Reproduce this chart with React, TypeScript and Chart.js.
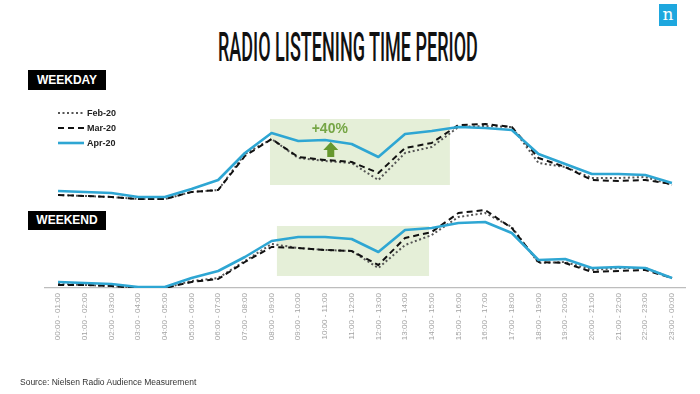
import React, { useEffect, useRef } from "react";
import { Chart, registerables } from "chart.js";

Chart.register(...registerables);

// ---------- data ----------
const hours: string[] = [
  "00:00 - 01:00", "01:00 - 02:00", "02:00 - 03:00", "03:00 - 04:00",
  "04:00 - 05:00", "05:00 - 06:00", "06:00 - 07:00", "07:00 - 08:00",
  "08:00 - 09:00", "09:00 - 10:00", "10:00 - 11:00", "11:00 - 12:00",
  "12:00 - 13:00", "13:00 - 14:00", "14:00 - 15:00", "15:00 - 16:00",
  "16:00 - 17:00", "17:00 - 18:00", "18:00 - 19:00", "19:00 - 20:00",
  "20:00 - 21:00", "21:00 - 22:00", "22:00 - 23:00", "23:00 - 00:00",
];

const seriesNames = ["Feb-20", "Mar-20", "Apr-20"];

const weekdayFeb = [10, 9, 8, 6, 6, 13, 15, 51, 66, 47, 44, 42, 25, 52, 58, 78, 79, 78, 42, 38, 27, 27, 28, 20];
const weekdayMar = [10, 9, 8, 6, 6, 13, 15, 49, 66, 48, 45, 43, 32, 57, 62, 80, 81, 78, 47, 38, 25, 24, 25, 21];
const weekdayApr = [14, 13, 12, 8, 8, 16, 25, 52, 72, 64, 65, 61, 48, 71, 74, 78, 77, 75, 51, 41, 31, 31, 30, 22];

const weekendFeb = [6, 5, 4, 2, 2, 9, 12, 29, 46, 42, 40, 39, 22, 45, 55, 73, 77, 63, 27, 28, 20, 22, 22, 12];
const weekendMar = [5, 5, 4, 2, 2, 8, 11, 28, 43, 42, 40, 39, 25, 52, 58, 77, 80, 62, 28, 27, 18, 19, 20, 12];
const weekendApr = [8, 7, 6, 3, 3, 12, 19, 33, 49, 53, 53, 51, 38, 60, 62, 67, 68, 57, 30, 31, 22, 23, 22, 12];

const weekdayRange = { min: 5, max: 90 };
const weekendRange = { min: 2, max: 85 };

// highlighted periods (category index / value units)
const weekdayHighlight = { from: 7.94, to: 14.68, low: 20, high: 86 };
const weekendHighlight = { from: 8.2, to: 13.9, low: 14, high: 64 };
const growthNote = { text: "+40%", at: 10.18, value: 75.5, arrowTop: 63, arrowBase: 55, arrowEnd: 48 };

// ---------- styles ----------
const FONT = "'Liberation Sans', Arial, sans-serif";
const BLUE = "#2ea6d3";
const BOX = "rgb(229,239,216)";
const seriesStyles = [
  { color: "#555555", width: 2, dash: [2, 2.5] },
  { color: "#111111", width: 2, dash: [6, 4] },
  { color: BLUE, width: 2.6, dash: [] as number[] },
];

function highlightPlugin(box: any, note?: any) {
  return {
    id: "highlight",
    beforeDatasetsDraw(chart: any) {
      const { ctx, scales } = chart;
      const x = scales.x, y = scales.y;
      const x0 = x.getPixelForValue(box.from);
      const x1 = x.getPixelForValue(box.to);
      const y0 = y.getPixelForValue(box.high);
      const y1 = y.getPixelForValue(box.low);
      ctx.save();
      ctx.fillStyle = BOX;
      ctx.fillRect(x0, y0, x1 - x0, y1 - y0);
      if (note) {
        const cx = x.getPixelForValue(note.at);
        ctx.fillStyle = "#76a646";
        ctx.font = `bold 14px ${FONT}`;
        ctx.textAlign = "center";
        ctx.textBaseline = "middle";
        ctx.fillText(note.text, cx, y.getPixelForValue(note.value));
        const yt = y.getPixelForValue(note.arrowTop);
        const yb = y.getPixelForValue(note.arrowBase);
        const ye = y.getPixelForValue(note.arrowEnd);
        const ax = cx + 1;
        ctx.fillStyle = "#66982f";
        ctx.beginPath();
        ctx.moveTo(ax, yt);
        ctx.lineTo(ax + 7.5, yb);
        ctx.lineTo(ax + 3.5, yb);
        ctx.lineTo(ax + 3.5, ye);
        ctx.lineTo(ax - 3.5, ye);
        ctx.lineTo(ax - 3.5, yb);
        ctx.lineTo(ax - 7.5, yb);
        ctx.closePath();
        ctx.fill();
      }
      ctx.restore();
    },
  };
}

function makeConfig(
  series: number[][],
  range: { min: number; max: number },
  padTop: number,
  padBottom: number,
  showAxis: boolean,
  box: any,
  note?: any
): any {
  const xScale: any = {
    type: "category",
    offset: true,
    display: showAxis,
    grid: { display: false, drawTicks: false },
    border: { display: true, color: "#bdbdbd", width: 1.2 },
    ticks: {
      autoSkip: false,
      minRotation: 90,
      maxRotation: 90,
      padding: 5,
      color: "#a3a3a3",
      font: { size: 8, family: FONT },
    },
  };
  if (showAxis) {
    xScale.afterFit = (s: any) => {
      s.height = 60;
    };
  }
  return {
    type: "line",
    data: {
      labels: hours,
      datasets: series.map((d, i) => ({
        label: seriesNames[i],
        data: d,
        borderColor: seriesStyles[i].color,
        borderWidth: seriesStyles[i].width,
        borderDash: seriesStyles[i].dash,
        borderCapStyle: "butt",
        borderJoinStyle: "round",
        pointRadius: 0,
        tension: 0,
        fill: false,
        order: 2 - i,
      })),
    },
    options: {
      responsive: false,
      animation: false,
      devicePixelRatio: 1,
      layout: { padding: { left: 44.7, right: 14.7, top: padTop, bottom: padBottom } },
      plugins: { legend: { display: false }, tooltip: { enabled: false } },
      scales: {
        x: xScale,
        y: { display: false, min: range.min, max: range.max },
      },
    },
    plugins: [highlightPlugin(box, note)],
  };
}

function ChartCanvas({ config }: { config: any }) {
  const ref = useRef<HTMLCanvasElement>(null);
  useEffect(() => {
    if (!ref.current) return;
    const chart = new Chart(ref.current, config);
    return () => chart.destroy();
  }, [config]);
  return (
    <canvas
      ref={ref}
      width={700}
      height={394}
      style={{ position: "absolute", left: 0, top: 0, width: 700, height: 394 }}
    />
  );
}

const weekdayConfig = makeConfig(
  [weekdayFeb, weekdayMar, weekdayApr], weekdayRange, 115, 194, false, weekdayHighlight, growthNote
);
const weekendConfig = makeConfig(
  [weekendFeb, weekendMar, weekendApr], weekendRange, 205, 46, true, weekendHighlight
);

function PanelTag({ text, top }: { text: string; top: number }) {
  return (
    <div
      style={{
        position: "absolute", left: 28, top, width: 78, height: 19.5,
        background: "#000", color: "#fff", font: `bold 12px ${FONT}`,
        display: "flex", alignItems: "center", justifyContent: "center",
      }}
    >
      {text}
    </div>
  );
}

export default function App() {
  const titleRef = useRef<HTMLSpanElement>(null);
  useEffect(() => {
    document.body.style.margin = "0";
    const el = titleRef.current;
    if (el) {
      const w = el.offsetWidth;
      if (w > 0) el.style.transform = `scaleX(${260 / w})`;
    }
  }, []);
  return (
    <div style={{ position: "relative", width: 700, height: 394, background: "#fff", overflow: "hidden" }}>
      <span
        ref={titleRef}
        style={{
          position: "absolute", left: 218, top: 28, display: "inline-block",
          font: "500 40px Roboto, sans-serif", lineHeight: "40px", color: "#111",
          whiteSpace: "nowrap", transformOrigin: "0 0",
        }}
      >
        RADIO LISTENING TIME PERIOD
      </span>
      <div
        style={{
          position: "absolute", left: 659, top: 4, width: 18, height: 22, background: "#1ea7de",
          color: "#fff", font: "17px 'DejaVu Serif', serif", lineHeight: "20px", textAlign: "center",
        }}
      >
        n
      </div>
      <PanelTag text="WEEKDAY" top={70} />
      <PanelTag text="WEEKEND" top={210.5} />
      <ChartCanvas config={weekendConfig} />
      <ChartCanvas config={weekdayConfig} />
      {seriesNames.map((name, i) => (
        <div
          key={name}
          style={{
            position: "absolute", left: 58, top: 106 + i * 15, height: 14,
            display: "flex", alignItems: "center",
          }}
        >
          <svg width={27} height={4} style={{ display: "block" }}>
            <line
              x1={0} y1={2} x2={26} y2={2}
              stroke={seriesStyles[i].color}
              strokeWidth={seriesStyles[i].width}
              strokeDasharray={seriesStyles[i].dash.length ? seriesStyles[i].dash.join(" ") : undefined}
            />
          </svg>
          <span style={{ marginLeft: 2, font: `bold 9px ${FONT}`, color: "#222" }}>{name}</span>
        </div>
      ))}
      <div
        style={{
          position: "absolute", left: 20, top: 378, font: `8.5px ${FONT}`, lineHeight: "8.5px",
          color: "#333", whiteSpace: "nowrap",
        }}
      >
        Source: Nielsen Radio Audience Measurement
      </div>
    </div>
  );
}
